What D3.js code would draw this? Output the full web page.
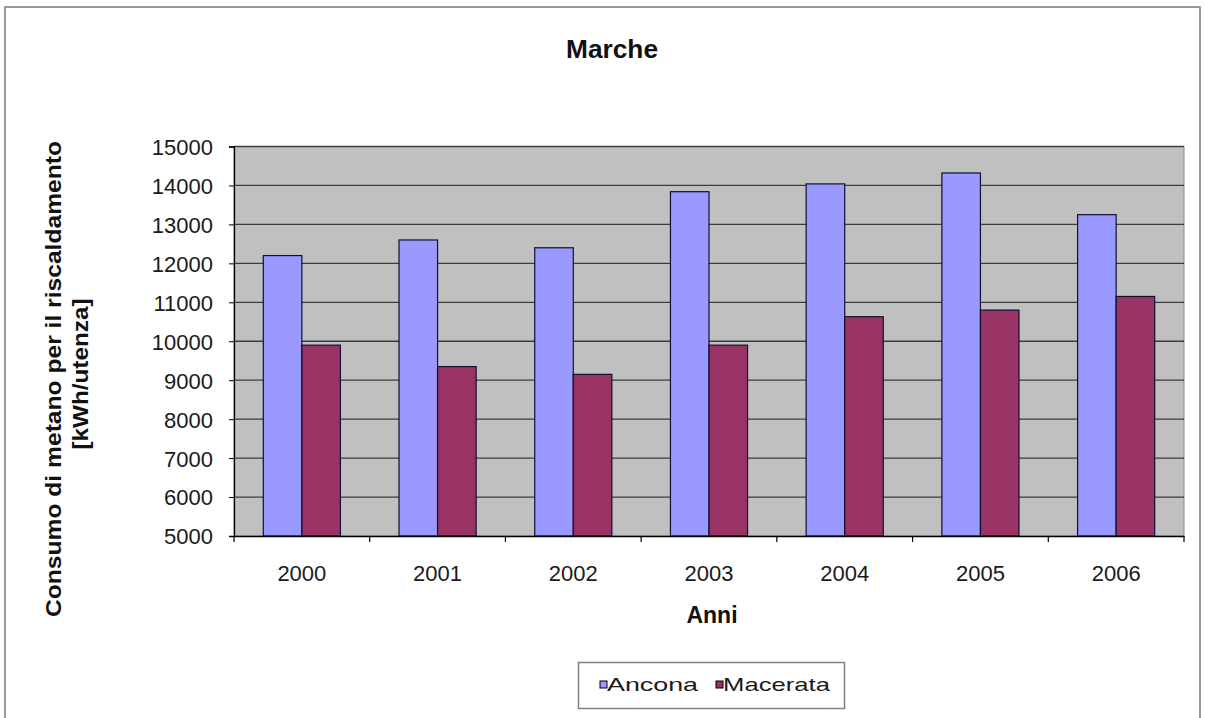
<!DOCTYPE html>
<html>
<head>
<meta charset="utf-8">
<script src="https://cdn.jsdelivr.net/npm/d3@7"></script>
<style>
  html, body { margin: 0; padding: 0; background: #fff; }
  svg { display: block; font-family: Arial, "Liberation Sans", sans-serif; }
</style>
</head>
<body>
<svg id="chart" width="1205" height="718"></svg>
<script>
const years = ["2000", "2001", "2002", "2003", "2004", "2005", "2006"];
const seriesNames = ["Ancona", "Macerata"];
const ancona = [12200, 12600, 12400, 13840, 14040, 14320, 13250];
const macerata = [9900, 9350, 9150, 9900, 10630, 10800, 11150];
const yTicks = [5000, 6000, 7000, 8000, 9000, 10000, 11000, 12000, 13000, 14000, 15000];
const colors = ["#9999FF", "#993366"];
const titleText = "Marche";
const xTitle = "Anni";
const yTitle1 = "Consumo di metano per il riscaldamento";
const yTitle2 = "[kWh/utenza]";

const svg = d3.select("#chart");
const W = 1205, H = 718;
const m = { left: 234, right: 1184, top: 146.5, bottom: 536 };

// outer frame
svg.append("rect").attr("x", 5).attr("y", 7).attr("width", 1195).attr("height", 740)
  .attr("fill", "#fff").attr("stroke", "#7a7a7a").attr("stroke-width", 1.5);

const x = d3.scaleBand().domain(years).range([m.left, m.right]).paddingInner(0).paddingOuter(0);
const x1 = d3.scaleBand().domain(seriesNames).range([0, x.bandwidth()]).paddingInner(0).paddingOuter(0.76);
const y = d3.scaleLinear().domain([5000, 15000]).range([m.bottom, m.top]);

// plot area
svg.append("rect").attr("x", m.left).attr("y", m.top)
  .attr("width", m.right - m.left).attr("height", m.bottom - m.top)
  .attr("fill", "#c0c0c0").attr("stroke", "#8a8a8a").attr("stroke-width", 1);

// gridlines
svg.append("g").selectAll("line").data(yTicks.filter(t => t > 5000)).join("line")
  .attr("x1", m.left).attr("x2", m.right)
  .attr("y1", d => y(d)).attr("y2", d => y(d))
  .attr("stroke", "#3c3c3c").attr("stroke-width", 1.3);

// bars
const data = years.map((yr, i) => ({ year: yr, values: [ancona[i], macerata[i]] }));
const groups = svg.append("g").selectAll("g").data(data).join("g")
  .attr("transform", d => `translate(${x(d.year)},0)`);
groups.selectAll("rect").data(d => d.values.map((v, j) => ({ name: seriesNames[j], v, j }))).join("rect")
  .attr("x", d => x1(d.name))
  .attr("width", x1.bandwidth())
  .attr("y", d => y(d.v))
  .attr("height", d => y(5000) - y(d.v))
  .attr("fill", d => colors[d.j])
  .attr("stroke", "#101030").attr("stroke-width", 1.2);

// y axis
const yAxis = d3.axisLeft(y).tickValues(yTicks).tickSize(5).tickPadding(16).tickFormat(d3.format("d"));
const gy = svg.append("g").attr("transform", `translate(${m.left},0)`).call(yAxis);
gy.select(".domain").attr("stroke", "#000").attr("stroke-width", 1.3);
gy.selectAll(".tick line").attr("stroke", "#000");
gy.selectAll("text").attr("font-size", 22).attr("fill", "#1a1a1a")
  .attr("font-family", "Arial, 'Liberation Sans', sans-serif").attr("dy", "0.36em");

// x axis
const xAxis = d3.axisBottom(x).tickSize(0).tickPadding(0);
const gx = svg.append("g").attr("transform", `translate(0,${m.bottom})`).call(xAxis);
gx.select(".domain").attr("stroke", "#000").attr("stroke-width", 1.3);
gx.selectAll("text").attr("font-size", 22).attr("fill", "#1a1a1a")
  .attr("font-family", "Arial, 'Liberation Sans', sans-serif")
  .attr("dy", 0).attr("y", 45);
// category boundary ticks
const bounds = years.map(d => x(d)).concat([m.right]);
gx.append("g").selectAll("line").data(bounds).join("line")
  .attr("x1", d => d).attr("x2", d => d).attr("y1", 0).attr("y2", 6)
  .attr("stroke", "#000").attr("stroke-width", 1.2);

// title
svg.append("text").attr("x", 612).attr("y", 58).attr("text-anchor", "middle")
  .attr("font-size", 25).attr("font-weight", "bold").attr("fill", "#111")
  .attr("textLength", 92).attr("lengthAdjust", "spacingAndGlyphs").text(titleText);

// x title
svg.append("text").attr("x", 712).attr("y", 623).attr("text-anchor", "middle")
  .attr("font-size", 23).attr("font-weight", "bold").attr("fill", "#111").text(xTitle);

// y title
const yt = svg.append("g").attr("transform", "translate(0,379) rotate(-90)");
yt.append("text").attr("x", 0).attr("y", 61).attr("text-anchor", "middle")
  .attr("font-size", 22).attr("font-weight", "bold").attr("fill", "#111")
  .attr("textLength", 476).attr("lengthAdjust", "spacingAndGlyphs").text(yTitle1);
yt.append("text").attr("x", 5).attr("y", 88).attr("text-anchor", "middle")
  .attr("font-size", 22).attr("font-weight", "bold").attr("fill", "#111")
  .attr("textLength", 151).attr("lengthAdjust", "spacingAndGlyphs").text(yTitle2);

// legend
const lg = svg.append("g");
lg.append("rect").attr("x", 578.5).attr("y", 662.5).attr("width", 266).attr("height", 46)
  .attr("fill", "#fff").attr("stroke", "#808080").attr("stroke-width", 1.5);
const legendX = [600, 716];
const legendLen = [91, 107];
seriesNames.forEach((name, i) => {
  lg.append("rect").attr("x", legendX[i]).attr("y", 681).attr("width", 7).attr("height", 7)
    .attr("fill", colors[i]).attr("stroke", "#000").attr("stroke-width", 1);
  lg.append("text").attr("x", legendX[i] + 7).attr("y", 691)
    .attr("font-size", 19).attr("fill", "#1a1a1a")
    .attr("textLength", legendLen[i]).attr("lengthAdjust", "spacingAndGlyphs").text(name);
});
</script>
</body>
</html>
